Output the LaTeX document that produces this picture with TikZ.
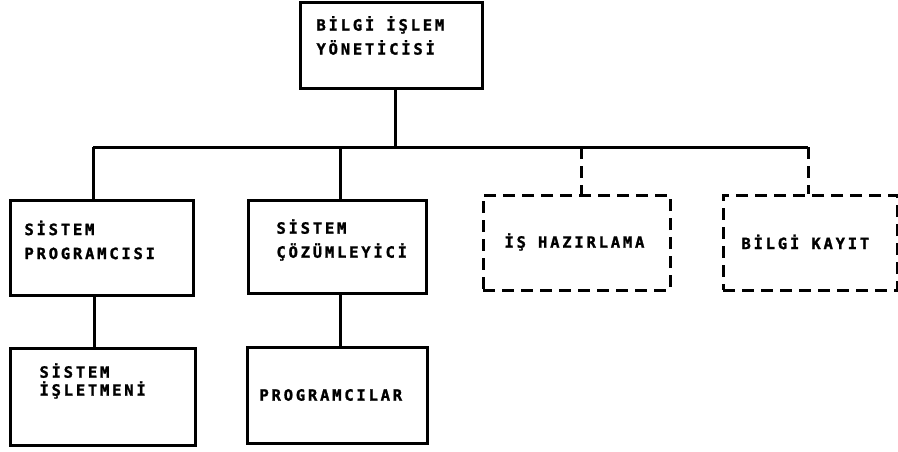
\documentclass[tikz,border=0pt]{standalone}
\usepackage{fontspec}
\newfontfamily\typewriter{DejaVu Sans Mono}[LetterSpace=18,BoldFeatures={FakeBold=1.5}]
\begin{document}
\begin{tikzpicture}[x=1pt,y=-1pt,
  line width=3pt,
  unit/.style={draw,rectangle,line width=3pt,inner sep=0pt},
  tempunit/.style={unit,dash pattern=on 12pt off 7pt},
  label/.style={anchor=west,inner sep=0pt,align=left,
    font=\typewriter\bfseries\fontsize{15.5}{24}\selectfont},
  tightlabel/.style={label,font=\typewriter\bfseries\fontsize{15.5}{18}\selectfont}]
\useasboundingbox (0,0) rectangle (898,452);

% boxes (centre, width, height)
\node[unit,minimum width=182pt,minimum height=86pt] (head) at (391,46) {};
\node[unit,minimum width=183pt,minimum height=95pt] (sprog) at (101.5,247.5) {};
\node[unit,minimum width=178pt,minimum height=93pt] (scoz) at (337,246.5) {};
\node[tempunit,minimum width=187pt,minimum height=95pt] (ishaz) at (576.5,242.5) {};
\node[tempunit,minimum width=174pt,minimum height=95pt] (bkay) at (810,242.5) {};
\node[unit,minimum width=185pt,minimum height=97pt] (sisl) at (102.5,396.5) {};
\node[unit,minimum width=180pt,minimum height=96pt] (progs) at (337,395) {};

% texts
\node[label] (theadtxt) at (315,35.5) {BİLGİ İŞLEM\\YÖNETİCİSİ};
\node[label] (tsprog) at (23,240) {SİSTEM\\PROGRAMCISI};
\node[label] (tscoz) at (275,240) {SİSTEM\\ÇÖZÜMLEYİCİ};
\node[label] (tishaz) at (503,242) {İŞ HAZIRLAMA};
\node[label] (tbkay) at (740,242) {BİLGİ KAYIT};
\node[tightlabel] (tsisl) at (38,381) {SİSTEM\\İŞLETMENİ};
\node[label] (tprogs) at (258,395) {PROGRAMCILAR};

% connectors
\coordinate (busL) at (93,147);
\coordinate (busR) at (808,147);
\draw ([xshift=4pt]head.south) -- ([xshift=4pt]head.south |- busL);
\draw (busL) -- (busR);
\draw (busL) -- (busL |- sprog.north);
\draw ([xshift=3pt]scoz.north |- busL) -- ([xshift=3pt]scoz.north);
\draw[dash pattern=on 12pt off 7pt] ([xshift=5pt]ishaz.north |- busL) -- ([xshift=5pt]ishaz.north);
\draw[dash pattern=on 12pt off 7pt] (busR) -- (busR |- bkay.north);
\draw ([xshift=-7pt]sprog.south) -- ([xshift=-7pt]sprog.south |- sisl.north);
\draw ([xshift=3pt]scoz.south) -- ([xshift=3pt]scoz.south |- progs.north);
\end{tikzpicture}
\end{document}
